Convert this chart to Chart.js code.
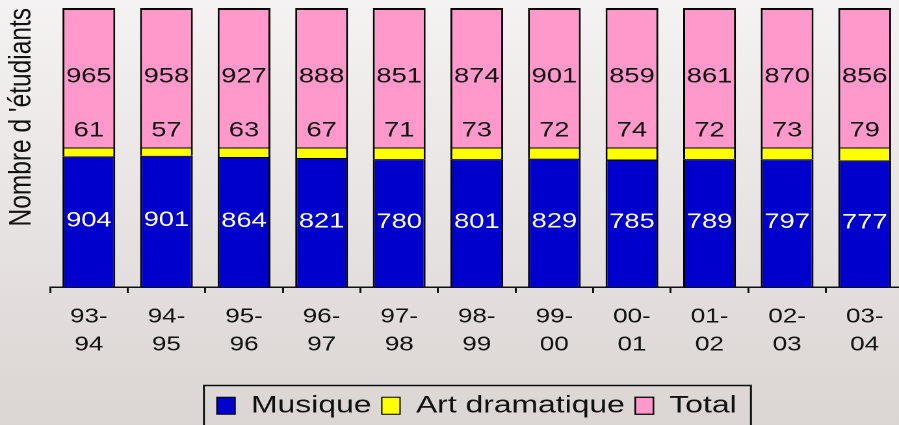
<!DOCTYPE html>
<html>
<head>
<meta charset="utf-8">
<script src="https://cdn.jsdelivr.net/npm/chart.js"></script>
<style>
  html, body {
    margin: 0;
    width: 899px;
    height: 425px;
    overflow: hidden;
    background: linear-gradient(to bottom, #f4f2f2, #dbd5d3);
  }
  /* the source picture is stretched sideways, so the whole chart is too */
  #wrap {
    width: 695px;
    height: 428px;
    transform: scaleX(1.3);
    transform-origin: 0 0;
  }
</style>
</head>
<body>
<div id="wrap"><canvas id="chart" width="695" height="428"></canvas></div>
<script>
var categories = [
  ["93-", "94"], ["94-", "95"], ["95-", "96"], ["96-", "97"], ["97-", "98"],
  ["98-", "99"], ["99-", "00"], ["00-", "01"], ["01-", "02"], ["02-", "03"],
  ["03-", "04"]
];
var musique = [904, 901, 864, 821, 780, 801, 829, 785, 789, 797, 777];
var artDramatique = [61, 57, 63, 67, 71, 73, 72, 74, 72, 73, 79];
var total = [965, 958, 927, 888, 851, 874, 901, 859, 861, 870, 856];

var fontFamily = '"Liberation Sans", Arial, sans-serif';

// 100% stacked: share of each segment in the column
function percentOf(values) {
  return values.map(function (v, i) {
    return (v / (musique[i] + artDramatique[i] + total[i])) * 100;
  });
}

// value labels inside / above the segments
var segmentLabels = {
  id: "segmentLabels",
  afterDatasetsDraw: function (chart) {
    var ctx = chart.ctx;
    ctx.save();
    ctx.font = "21px " + fontFamily;
    ctx.textAlign = "center";
    ctx.textBaseline = "middle";
    chart.data.datasets.forEach(function (ds, i) {
      var meta = chart.getDatasetMeta(i);
      meta.data.forEach(function (bar, j) {
        var p = bar.getProps(["x", "y", "base"], true);
        var y = (p.y + p.base) / 2 - 1;
        if (ds.labelAbove) {
          y = p.y - 17;
        }
        ctx.fillStyle = ds.labelColor;
        ctx.fillText(ds.rawValues[j], p.x, y);
      });
    });
    ctx.restore();
  }
};

// frame round the legend
var legendFrame = {
  id: "legendFrame",
  afterDraw: function (chart) {
    var boxes = chart.legend.legendHitBoxes;
    if (!boxes || !boxes.length) return;
    var first = boxes[0];
    var last = boxes[boxes.length - 1];
    var ctx = chart.ctx;
    ctx.save();
    ctx.strokeStyle = "#111";
    ctx.lineWidth = 1.5;
    ctx.strokeRect(first.left - 10, first.top - 8,
      last.left + last.width - first.left + 21, 60);
    ctx.restore();
  }
};

var ctx = document.getElementById("chart").getContext("2d");

new Chart(ctx, {
  type: "bar",
  data: {
    labels: categories,
    datasets: [
      {
        label: "Musique",
        data: percentOf(musique),
        rawValues: musique,
        labelColor: "#ffffff",
        backgroundColor: "#0000cc",
        borderColor: "#000",
        borderWidth: { left: 1.5, right: 1.5, top: 1, bottom: 0 },
        borderSkipped: false
      },
      {
        label: "Art dramatique",
        data: percentOf(artDramatique),
        rawValues: artDramatique,
        labelColor: "#111",
        labelAbove: true,
        backgroundColor: "#ffff00",
        borderColor: "#000",
        borderWidth: { left: 1.5, right: 1.5, top: 1, bottom: 0 },
        borderSkipped: false
      },
      {
        label: "Total",
        data: percentOf(total),
        rawValues: total,
        labelColor: "#111",
        backgroundColor: "#ff99cc",
        borderColor: "#000",
        borderWidth: { left: 1.5, right: 1.5, top: 2, bottom: 0 },
        borderSkipped: false
      }
    ]
  },
  options: {
    responsive: false,
    animation: false,
    devicePixelRatio: 2,
    layout: { padding: { top: 8, left: 0, right: 0, bottom: 0 } },
    datasets: {
      bar: { categoryPercentage: 1, barPercentage: 0.68 }
    },
    scales: {
      x: {
        stacked: true,
        grid: {
          display: true,
          drawOnChartArea: false,
          drawTicks: true,
          tickLength: 6,
          offset: true,
          color: "#111",
          lineWidth: 1.5
        },
        border: { display: true, color: "#111", width: 1.5 },
        ticks: {
          color: "#111",
          padding: 10,
          maxRotation: 0,
          autoSkip: false,
          font: { family: fontFamily, size: 20, lineHeight: 1.4 }
        },
        afterFit: function (scale) {
          scale.height = 98.5;
        }
      },
      y: {
        stacked: true,
        min: 0,
        max: 100,
        grid: { display: false },
        border: { display: false },
        ticks: { display: false },
        title: {
          display: true,
          text: "Nombre d 'étudiants",
          align: "end",
          color: "#111",
          padding: { top: 2, bottom: 0 },
          font: { family: fontFamily, size: 24.5 }
        },
        afterFit: function (scale) {
          scale.width = 38.5;
        }
      }
    },
    plugins: {
      tooltip: { enabled: false },
      legend: {
        position: "bottom",
        fullSize: false,
        labels: {
          color: "#111",
          boxWidth: 14,
          boxHeight: 17,
          padding: 8,
          font: { family: fontFamily, size: 24.5 }
        }
      }
    }
  },
  plugins: [segmentLabels, legendFrame]
});
</script>
</body>
</html>
